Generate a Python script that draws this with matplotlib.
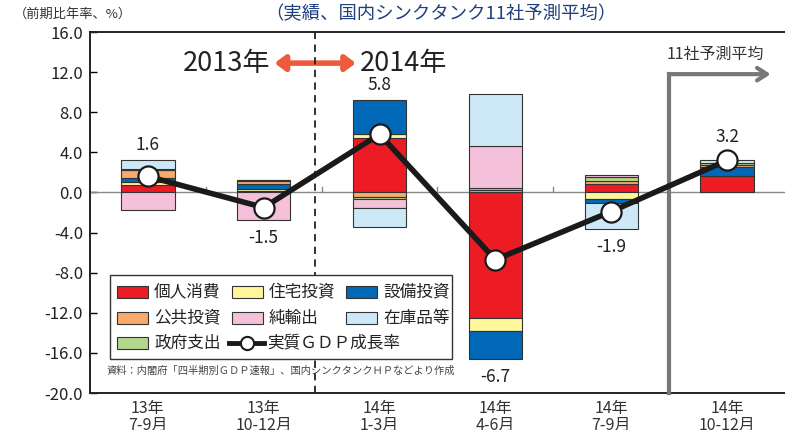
import numpy as np
import matplotlib.pyplot as plt
from matplotlib.lines import Line2D
from matplotlib.patches import Rectangle

plt.rcParams['font.family'] = ['Noto Sans CJK JP', 'DejaVu Sans']

# data (contributions to real GDP growth, annualised q/q, %)
categories = ["13年\n7-9月", "13年\n10-12月", "14年\n1-3月", "14年\n4-6月", "14年\n7-9月", "14年\n10-12月"]
gdp = [1.6, -1.5, 5.8, -6.7, -1.9, 3.2]
consumption = [0.7, 0.15, 5.4, -12.5, 0.85, 1.65]
housing = [0.35, 0.15, 0.4, -1.3, -0.7, 0.0]
capex = [0.35, 0.5, 3.4, -2.8, -0.3, 0.9]
public = [0.8, 0.3, -0.45, 0.2, 0.3, 0.15]
government = [0.1, 0.1, -0.25, 0.2, 0.35, 0.25]
net_exports = [-1.7, -2.7, -0.8, 4.2, 0.25, 0.0]
inventory = [0.9, 0.0, -1.9, 5.2, -2.6, 0.25]

series = [
    ("個人消費", consumption, "#ED1C24"),
    ("住宅投資", housing, "#FFF59B"),
    ("設備投資", capex, "#0068B7"),
    ("公共投資", public, "#F8A96C"),
    ("政府支出", government, "#B4D88B"),
    ("純輸出", net_exports, "#F5C1DA"),
    ("在庫品等", inventory, "#CDE9F8"),
]

W, H = 785, 430
fig = plt.figure(figsize=(W / 100, H / 100), dpi=100)
ax = fig.add_axes([0.1146, 0.086, 0.8854, 0.8395])

x = np.arange(len(categories)) + 0.5
width = 0.46
pos = np.zeros(len(categories))
neg = np.zeros(len(categories))
for name, vals, color in series:
    v = np.array(vals, dtype=float)
    bottoms = np.where(v >= 0, pos, neg)
    ax.bar(x, v, width, bottom=bottoms, color=color, edgecolor="#333333", linewidth=0.8, zorder=3)
    pos = pos + np.clip(v, 0, None)
    neg = neg + np.clip(v, None, 0)

ax.axhline(0, color="#888888", lw=1.0, zorder=2)
for b in range(1, len(categories)):
    ax.plot([b, b], [0, 0.5], color="#888888", lw=1.0, zorder=2)

ax.plot(x, gdp, color="#1a1a1a", lw=4, zorder=5, solid_capstyle="round")
ax.plot(x, gdp, "o", ms=14.5, mfc="white", mec="#1a1a1a", mew=1.6, zorder=6)

for xi, g, top, bot in zip(x, gdp, pos, neg):
    if g >= 0:
        ax.text(xi, max(top, g + 0.8) + 0.6, f"{g:.1f}", ha="center", va="bottom", fontsize=12.5, color="#222222", zorder=7)
    else:
        ax.text(xi, bot - 0.9, f"{g:.1f}", ha="center", va="top", fontsize=12.5, color="#222222", zorder=7)

ax.set_xlim(0, len(categories))
ax.set_ylim(-20, 16)
yt = np.arange(-20, 17, 4)
ax.set_yticks(yt)
ax.set_yticklabels([f"{t:.1f}" for t in yt], fontsize=12, color="#222222")
ax.set_xticks(x)
ax.set_xticklabels(categories, fontsize=11.5, color="#333333", linespacing=1.0)
ax.tick_params(axis="x", length=0, pad=5)
ax.tick_params(axis="y", direction="in", length=5, width=1, pad=5)
for s in ["left", "top", "bottom"]:
    ax.spines[s].set_linewidth(1.4)
    ax.spines[s].set_color("#222222")
ax.spines["right"].set_visible(False)

# year divider
ax.axvline(1.94, color="#222222", lw=1.3, ls=(0, (4, 3)), zorder=4)
ax.text(1.56, 12.9, "2013年", ha="right", va="center", fontsize=19.5, color="#222222")
ax.text(2.33, 12.9, "2014年", ha="left", va="center", fontsize=19.5, color="#222222")
ax.annotate("", xy=(1.57, 12.9), xytext=(2.32, 12.9),
            arrowprops=dict(arrowstyle="<|-|>,head_length=0.6,head_width=0.45", color="#F05A3C", lw=4))

# forecast marker
ax.plot([5, 5], [-20, 11.8], color="#777777", lw=3, zorder=4, clip_on=False)
ax.annotate("", xy=(5.9, 11.8), xytext=(4.987, 11.8),
            arrowprops=dict(arrowstyle="->,head_length=0.7,head_width=0.45", color="#777777", lw=3))
ax.text(5.4, 13.8, "11社予測平均", ha="center", va="center", fontsize=11.5, color="#333333")

# legend drawn by hand (rows are not a strict grid in the original)
tf = fig.transFigure
def fx(px):
    return px / W
def fy(py):
    return 1 - py / H

ax.add_artist(Rectangle((fx(110), fy(359)), fx(452) - fx(110), fy(275) - fy(359), transform=tf,
                        facecolor="white", edgecolor="#333333", lw=1.0, zorder=8, clip_on=False))
cols = [117, 232, 346]
rows = [292, 318, 343]
slots = [(0, 0), (0, 1), (0, 2), (1, 0), (2, 0), (1, 1), (1, 2)]  # (row, col) for each series
for (name, _, color), (r, c) in zip(series, slots):
    ax.add_artist(Rectangle((fx(cols[c]), fy(rows[r] + 6)), fx(31), 12 / H, transform=tf,
                            facecolor=color, edgecolor="#333333", lw=0.8, zorder=9, clip_on=False))
    ax.text(fx(cols[c] + 37), fy(rows[r]), name, transform=tf, fontsize=12, color="#222222",
            va="center", ha="left", zorder=9)
ax.add_artist(Line2D([fx(229), fx(264)], [fy(rows[2]), fy(rows[2])], transform=tf, color="#1a1a1a", lw=3.5,
                     zorder=9, clip_on=False))
ax.add_artist(Line2D([fx(246.5)], [fy(rows[2])], transform=tf, marker="o", ms=9.5, mfc="white",
                     mec="#1a1a1a", mew=1.5, zorder=10, clip_on=False))
ax.text(fx(cols[1] + 35), fy(rows[2]), "実質ＧＤＰ成長率", transform=tf, fontsize=12, color="#222222",
        va="center", ha="left", zorder=9)

ax.text(fx(107), fy(371), "資料：内閣府「四半期別ＧＤＰ速報」、国内シンクタンクＨＰなどより作成",
        transform=tf, fontsize=7.4, color="#444444", va="center", ha="left")

fig.text(0.018, 0.968, "（前期比年率、%）", fontsize=9.5, color="#333333", va="center", ha="left")
fig.text(0.338, 0.968, "（実績、国内シンクタンク11社予測平均）", fontsize=13.2, color="#1F3F7F",
         va="center", ha="left")

fig.savefig("out.png", dpi=100)
